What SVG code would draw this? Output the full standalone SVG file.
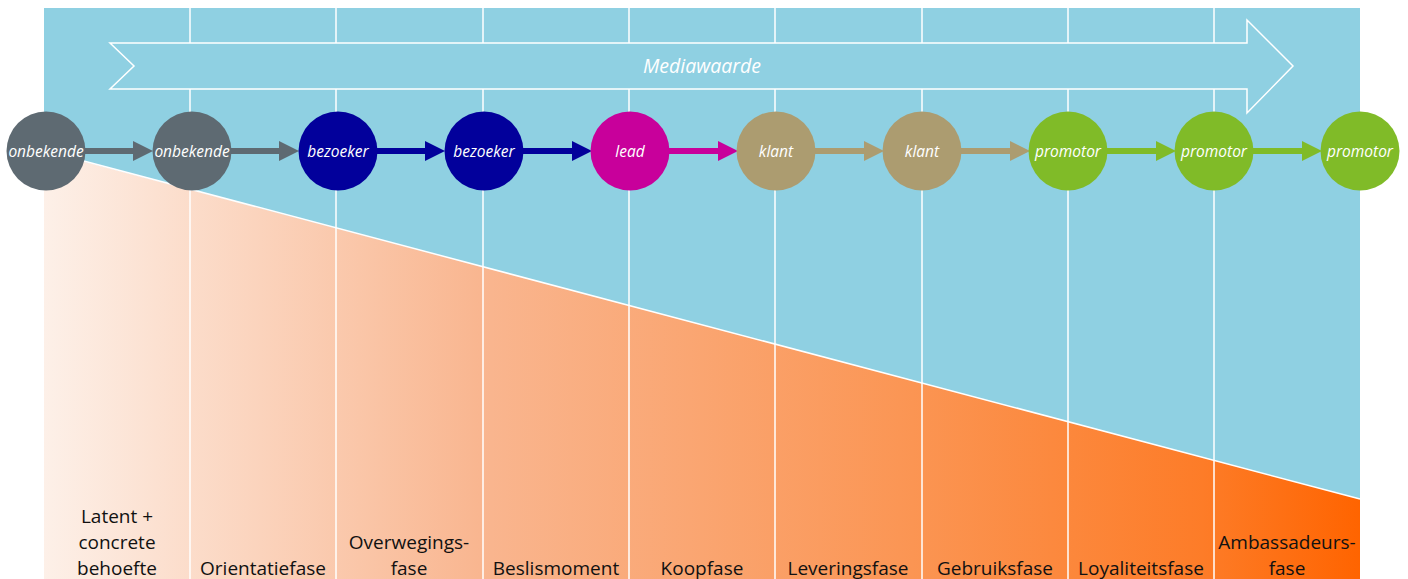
<svg xmlns="http://www.w3.org/2000/svg" width="1408" height="579" viewBox="0 0 1408 579">
<defs>
<linearGradient id="og" x1="44" y1="0" x2="1360" y2="0" gradientUnits="userSpaceOnUse">
<stop offset="0" stop-color="#fdf0e8"/>
<stop offset="0.33" stop-color="#f9b690"/>
<stop offset="0.66" stop-color="#fb9553"/>
<stop offset="0.88" stop-color="#fd7c28"/>
<stop offset="1" stop-color="#ff6400"/>
</linearGradient>
<style>
.vl{stroke:#fff;stroke-width:1.5;fill:none}
.nl{font-family:"Open Sans","Noto Sans",sans-serif;font-style:italic;font-size:15.5px;fill:#fff;text-anchor:middle}
.pl{font-family:"Open Sans","Noto Sans",sans-serif;font-size:19px;fill:#111;text-anchor:middle}
.sh{stroke-width:6;fill:none}
</style>
</defs>
<rect x="44" y="8" width="1316" height="571" fill="#8fd0e2"/>
<polygon points="44,151 1360,499 1360,579 44,579" fill="url(#og)"/>
<line x1="46" y1="151" x2="1360" y2="499" stroke="#fff" stroke-width="1.5"/>
<g id="gridlines">
<line class="vl" x1="190" y1="8" x2="190" y2="579"/>
<line class="vl" x1="336" y1="8" x2="336" y2="579"/>
<line class="vl" x1="483" y1="8" x2="483" y2="579"/>
<line class="vl" x1="629" y1="8" x2="629" y2="579"/>
<line class="vl" x1="775" y1="8" x2="775" y2="579"/>
<line class="vl" x1="922" y1="8" x2="922" y2="579"/>
<line class="vl" x1="1068" y1="8" x2="1068" y2="579"/>
<line class="vl" x1="1214" y1="8" x2="1214" y2="579"/>
</g>
<g id="mediawaarde">
<polygon points="110,43 1247,43 1247,20 1293,66 1247,113 1247,89 110,89 134,66" fill="#8fd0e2" stroke="#fff" stroke-width="1.5"/>
<text x="702" y="73" class="nl" style="font-size:19.5px">Mediawaarde</text>
</g>
<g id="connectors">
<line class="sh" x1="84" y1="151" x2="135" y2="151" stroke="#5e6a72"/><polygon points="133,141 153,151 133,161" fill="#5e6a72"/>
<line class="sh" x1="229" y1="151" x2="281" y2="151" stroke="#5e6a72"/><polygon points="279,141 299,151 279,161" fill="#5e6a72"/>
<line class="sh" x1="375" y1="151" x2="427" y2="151" stroke="#02009b"/><polygon points="425,141 445,151 425,161" fill="#02009b"/>
<line class="sh" x1="522" y1="151" x2="574" y2="151" stroke="#02009b"/><polygon points="572,141 592,151 572,161" fill="#02009b"/>
<line class="sh" x1="668" y1="151" x2="720" y2="151" stroke="#c8009b"/><polygon points="718,141 738,151 718,161" fill="#c8009b"/>
<line class="sh" x1="814" y1="151" x2="866" y2="151" stroke="#ac9c70"/><polygon points="864,141 884,151 864,161" fill="#ac9c70"/>
<line class="sh" x1="961" y1="151" x2="1012" y2="151" stroke="#ac9c70"/><polygon points="1010,141 1030,151 1010,161" fill="#ac9c70"/>
<line class="sh" x1="1107" y1="151" x2="1158" y2="151" stroke="#80bb28"/><polygon points="1156,141 1176,151 1156,161" fill="#80bb28"/>
<line class="sh" x1="1253" y1="151" x2="1304" y2="151" stroke="#80bb28"/><polygon points="1302,141 1322,151 1302,161" fill="#80bb28"/>
</g>
<g id="n1"><circle cx="46" cy="151" r="39.5" fill="#5e6a72"/><text x="46" y="157" class="nl">onbekende</text></g>
<g id="n2"><circle cx="192" cy="151" r="39.5" fill="#5e6a72"/><text x="192" y="157" class="nl">onbekende</text></g>
<g id="n3"><circle cx="338" cy="151" r="39.5" fill="#02009b"/><text x="338" y="157" class="nl">bezoeker</text></g>
<g id="n4"><circle cx="484" cy="151" r="39.5" fill="#02009b"/><text x="484" y="157" class="nl">bezoeker</text></g>
<g id="n5"><circle cx="630" cy="151" r="39.5" fill="#c8009b"/><text x="630" y="157" class="nl">lead</text></g>
<g id="n6"><circle cx="776" cy="151" r="39.5" fill="#ac9c70"/><text x="776" y="157" class="nl">klant</text></g>
<g id="n7"><circle cx="922" cy="151" r="39.5" fill="#ac9c70"/><text x="922" y="157" class="nl">klant</text></g>
<g id="n8"><circle cx="1068" cy="151" r="39.5" fill="#80bb28"/><text x="1068" y="157" class="nl">promotor</text></g>
<g id="n9"><circle cx="1214" cy="151" r="39.5" fill="#80bb28"/><text x="1214" y="157" class="nl">promotor</text></g>
<g id="n10"><circle cx="1360" cy="151" r="39.5" fill="#80bb28"/><text x="1360" y="157" class="nl">promotor</text></g>
<g id="phases">
<text x="117" y="523" class="pl">Latent +</text>
<text x="117" y="549" class="pl">concrete</text>
<text x="117" y="575" class="pl">behoefte</text>
<text x="263" y="575" class="pl">Orientatiefase</text>
<text x="409" y="549" class="pl">Overwegings-</text>
<text x="409" y="575" class="pl">fase</text>
<text x="556" y="575" class="pl">Beslismoment</text>
<text x="702" y="575" class="pl">Koopfase</text>
<text x="848" y="575" class="pl">Leveringsfase</text>
<text x="995" y="575" class="pl">Gebruiksfase</text>
<text x="1141" y="575" class="pl">Loyaliteitsfase</text>
<text x="1287" y="549" class="pl">Ambassadeurs-</text>
<text x="1287" y="575" class="pl">fase</text>
</g>
</svg>
